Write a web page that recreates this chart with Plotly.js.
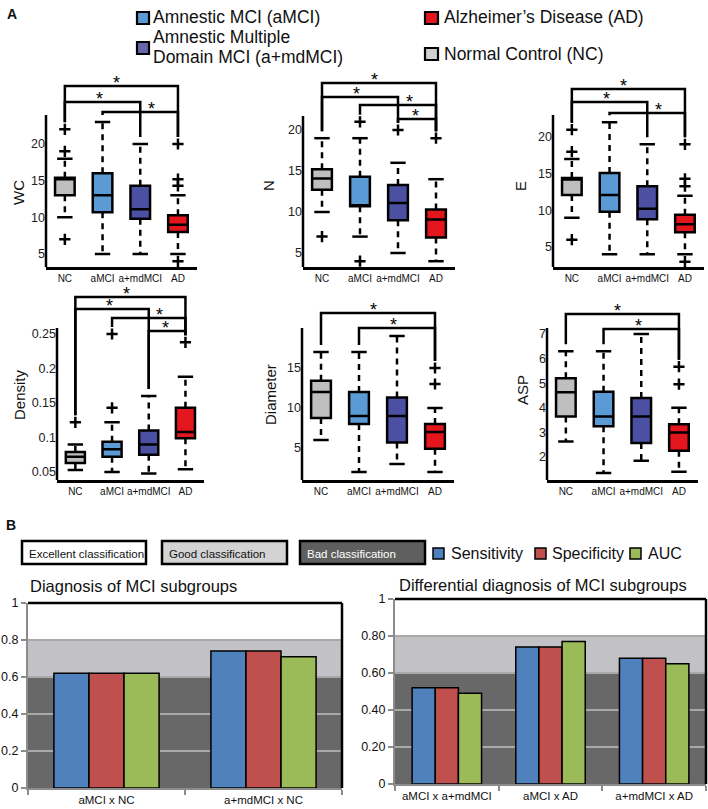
<!DOCTYPE html>
<html><head><meta charset="utf-8">
<script src="https://cdn.plot.ly/plotly-3.0.1.min.js"></script>
<style>html,body{margin:0;padding:0;background:#fff}#chart{width:708px;height:809px}</style>
</head><body><div id="chart"></div>
<script>
// ---------- DATA ----------
const groups = ['NC', 'aMCI', 'a+mdMCI', 'AD'];
const measures = ['WC', 'N', 'E', 'Density', 'Diameter', 'ASP'];

const wcQ1 = [13.0, 10.7, 9.8, 8.0];
const wcMed = [15.2, 13.0, 11.1, 9.0];
const wcQ3 = [15.4, 16.0, 14.3, 10.3];
const wcLo = [10, 5, 5, 5];
const wcHi = [18, 23, 20, 13];
const wcOut = [[7, 19, 22], [], [], [4, 14.3, 15.2, 20]];

const nQ1 = [12.7, 10.7, 9.0, 6.9];
const nMed = [14.1, 10.8, 11.1, 9.1];
const nQ3 = [15.2, 14.3, 13.3, 10.3];
const nLo = [10, 7, 5, 4];
const nHi = [19, 19, 16, 14];
const nOut = [[7], [4, 21], [20], [19]];

const eQ1 = [12.1, 9.8, 8.8, 7.0];
const eMed = [14.2, 12.1, 10.2, 8.1];
const eQ3 = [14.4, 15.1, 13.3, 9.4];
const eLo = [9, 4, 4, 4];
const eHi = [17, 22, 19, 12];
const eOut = [[6, 18, 21], [], [], [3, 13.3, 14.3, 19]];

const dQ1 = [0.063, 0.072, 0.075, 0.099];
const dMed = [0.072, 0.083, 0.090, 0.108];
const dQ3 = [0.079, 0.094, 0.110, 0.143];
const dLo = [0.053, 0.050, 0.048, 0.054];
const dHi = [0.090, 0.122, 0.160, 0.188];
const dOut = [[0.122], [0.143, 0.250], [], [0.238]];

const diQ1 = [8.75, 8.0, 5.7, 4.9];
const diMed = [12, 9, 9, 7];
const diQ3 = [13.4, 12.0, 11.3, 8.0];
const diLo = [6, 2, 3, 2];
const diHi = [17, 17, 19, 10];
const diOut = [[], [], [], [13, 15]];

const aQ1 = [3.65, 3.25, 2.57, 2.25];
const aMed = [4.63, 3.65, 3.65, 3.0];
const aQ3 = [5.2, 4.65, 4.4, 3.33];
const aLo = [2.63, 1.35, 1.85, 1.4];
const aHi = [6.3, 6.3, 7.0, 4.0];
const aOut = [[], [], [], [4.96, 5.67]];

// significance comparisons (group index pairs), top bracket first
const wcSig = [[0, 3], [0, 2], [1, 3]];
const nSig = [[0, 3], [0, 2], [1, 3], [2, 3]];
const eSig = [[0, 3], [0, 2], [1, 3]];
const dSig = [[0, 3], [0, 2], [1, 3], [2, 3]];
const diSig = [[0, 3], [1, 3]];
const aSig = [[0, 3], [1, 3]];

const wcTicks = [5, 10, 15, 20];
const nTicks = [5, 10, 15, 20];
const eTicks = [5, 10, 15, 20];
const dTicks = [0.05, 0.1, 0.15, 0.2, 0.25];
const diTicks = [5, 10, 15];
const aTicks = [2, 3, 4, 5, 6, 7];

// Panel B
const metrics = ['Sensitivity', 'Specificity', 'AUC'];
const cats1 = ['aMCI x NC', 'a+mdMCI x NC'];
const sens1 = [0.62, 0.74];
const spec1 = [0.62, 0.74];
const auc1 = [0.62, 0.71];
const cats2 = ['aMCI x a+mdMCI', 'aMCI x AD', 'a+mdMCI x AD'];
const sens2 = [0.52, 0.74, 0.68];
const spec2 = [0.52, 0.74, 0.68];
const auc2 = [0.49, 0.77, 0.65];
const yTicksB = [0, 0.2, 0.4, 0.6, 0.8, 1];
const yTickText1 = ['0', '0.2', '0.4', '0.6', '0.8', '1'];
const yTickText2 = ['0', '0.20', '0.40', '0.60', '0.80', '1'];
const bandNames = ['Excellent classification', 'Good classification', 'Bad classification'];

// ---------- STYLE / LAYOUT ----------
const W = 708, H = 809;
const FONT = 'Liberation Sans, Arial, sans-serif';
const groupColors = ['#bfbfbf', '#5b9bd5', '#4b50a3', '#e3151d'];
const legendColors = ['#5b9bd5', '#6767a8', '#e3151d', '#d0d0d0'];
const metricColors = ['#4f81bd', '#c0504d', '#9bbb59'];
const PX = x => x / W;
const PY = y => 1 - y / H;

const statTable = [
  {q1: wcQ1, med: wcMed, q3: wcQ3, lo: wcLo, hi: wcHi, out: wcOut, sig: wcSig, ticks: wcTicks},
  {q1: nQ1, med: nMed, q3: nQ3, lo: nLo, hi: nHi, out: nOut, sig: nSig, ticks: nTicks},
  {q1: eQ1, med: eMed, q3: eQ3, lo: eLo, hi: eHi, out: eOut, sig: eSig, ticks: eTicks},
  {q1: dQ1, med: dMed, q3: dQ3, lo: dLo, hi: dHi, out: dOut, sig: dSig, ticks: dTicks},
  {q1: diQ1, med: diMed, q3: diQ3, lo: diLo, hi: diHi, out: diOut, sig: diSig, ticks: diTicks},
  {q1: aQ1, med: aMed, q3: aQ3, lo: aLo, hi: aHi, out: aOut, sig: aSig, ticks: aTicks}
];

// pixel geometry of each panel (layout only)
const geo = [
  {left: 46, sp: 37.7, bot: 267, top: 70, cal: [[144, 20], [254, 5]], axTop: 115, levels: [86, 102, 112], title: [19, 193]},
  {left: 303, sp: 38, bot: 267, top: 70, cal: [[130, 20], [253, 5]], axTop: 116, levels: [83, 97, 105, 119], title: [268, 186]},
  {left: 553, sp: 37.7, bot: 267, top: 70, cal: [[137, 20], [247, 5]], axTop: 115, levels: [89, 102, 113], title: [520, 186]},
  {left: 57, sp: 36.7, bot: 480, top: 280, cal: [[334, 0.25], [472, 0.05]], axTop: 328, levels: [297, 309, 318, 331], title: [19, 395]},
  {left: 302, sp: 38, bot: 480, top: 280, cal: [[368, 15], [448, 5]], axTop: 328, levels: [313, 328], title: [270, 395]},
  {left: 547, sp: 37.7, bot: 480, top: 280, cal: [[334, 7], [457, 2]], axTop: 328, levels: [314, 329], title: [522, 390]}
];

const traces = [];
const shapes = [];
const annotations = [];
const layout = {
  width: W, height: H, margin: {l: 0, r: 0, t: 0, b: 0},
  paper_bgcolor: '#fff', plot_bgcolor: 'rgba(0,0,0,0)',
  showlegend: false, boxmode: 'overlay', barmode: 'group', bargap: 0.33, bargroupgap: 0,
  font: {family: FONT, color: '#111'}
};

statTable.forEach((s, k) => {
  const g = geo[k];
  const n = k + 1;
  const xa = n === 1 ? 'x' : 'x' + n;
  const ya = n === 1 ? 'y' : 'y' + n;
  const [[p1, v1], [p2, v2]] = g.cal;
  const slope = (v2 - v1) / (p2 - p1);
  const vOf = p => v1 + (p - p1) * slope;
  const yr = [vOf(g.bot), vOf(g.top)];

  layout['xaxis' + (n === 1 ? '' : n)] = {
    domain: [PX(g.left), PX(g.left + 4 * g.sp)], range: [-0.5, 3.5], anchor: ya,
    tickvals: [0, 1, 2, 3], ticktext: groups, tickangle: 0, showline: true, linecolor: '#000', linewidth: 2.5,
    showgrid: false, zeroline: false, ticks: '', tickfont: {size: 10, color: '#111'}, fixedrange: true
  };
  layout['yaxis' + (n === 1 ? '' : n)] = {
    domain: [PY(g.bot), PY(g.top)], range: yr, anchor: xa,
    tickvals: s.ticks, showline: false, showgrid: false, zeroline: false, ticks: '',
    tickfont: {size: 12.5, color: '#222'}, fixedrange: true
  };
  // left axis line (only up to the data area)
  shapes.push({type: 'line', xref: xa + ' domain', yref: ya, x0: 0, x1: 0, y0: yr[0], y1: vOf(g.axTop),
    line: {color: '#000', width: 2.5}});
  // axis title
  annotations.push({text: measures[k], xref: 'paper', yref: 'paper', x: PX(g.title[0]), y: PY(g.title[1]),
    xanchor: 'center', yanchor: 'middle', textangle: -90, showarrow: false, font: {size: 15, color: '#111'}});

  // whiskers
  const wx = [], wy = [];
  groups.forEach((_, i) => { wx.push(i, i, null, i, i, null); wy.push(s.q3[i], s.hi[i], null, s.q1[i], s.lo[i], null); });
  traces.push({type: 'scatter', mode: 'lines', x: wx, y: wy, xaxis: xa, yaxis: ya, hoverinfo: 'skip',
    line: {color: '#000', width: 2.5, dash: '6px,5px'}});
  // caps
  traces.push({type: 'scatter', mode: 'markers', xaxis: xa, yaxis: ya, hoverinfo: 'skip',
    x: groups.map((_, i) => i).concat(groups.map((_, i) => i)), y: s.hi.concat(s.lo),
    marker: {symbol: 'line-ew-open', size: 11, color: '#000', line: {color: '#000', width: 2.5}}});
  // boxes
  groups.forEach((gname, i) => {
    traces.push({type: 'box', name: gname, x: [i], q1: [s.q1[i]], median: [s.med[i]], q3: [s.q3[i]],
      lowerfence: [s.q1[i]], upperfence: [s.q3[i]], xaxis: xa, yaxis: ya, width: 0.52, whiskerwidth: 0,
      fillcolor: groupColors[i], line: {color: '#000', width: 2.5}, boxpoints: false, hoverinfo: 'skip'});
  });
  // outliers
  const ox = [], oy = [];
  s.out.forEach((arr, i) => arr.forEach(v => { ox.push(i); oy.push(v); }));
  if (ox.length) traces.push({type: 'scatter', mode: 'markers', x: ox, y: oy, xaxis: xa, yaxis: ya, hoverinfo: 'skip',
    marker: {symbol: 'cross-thin-open', size: 8, color: '#000', line: {color: '#000', width: 2.5}}});

  // significance brackets
  const gapV = 7 * Math.abs(slope);
  const groupMax = i => Math.max(s.hi[i], ...s.out[i]);
  s.sig.forEach(([a, b], j) => {
    const L = vOf(g.levels[j]);
    const da = Math.min(L, groupMax(a) + gapV);
    const db = Math.min(L, groupMax(b) + gapV);
    traces.push({type: 'scatter', mode: 'lines', x: [a, a, b, b], y: [da, L, L, db], xaxis: xa, yaxis: ya,
      hoverinfo: 'skip', line: {color: '#000', width: 2.5}});
    let sx = a + (b - a) * 0.46;
    for (let q = 0; q < j; q++) {
      s.sig[q].forEach(c => { if (c > a && c < b) sx = (c + b) / 2 - 0.2; });
    }
    annotations.push({text: '*', xref: xa, yref: ya, x: sx, y: L, xanchor: 'center', yanchor: 'middle',
      yshift: 3, showarrow: false, font: {size: 18, color: '#000'}});
  });
});

// ---------- Panel B bar charts ----------
const barGeo = [
  {left: 28, right: 342, bot: 788, top: 603, cats: cats1, vals: [sens1, spec1, auc1], tt: yTickText1,
   title: 'Diagnosis of MCI subgroups', tx: 28, ty: 586},
  {left: 395, right: 706, bot: 784, top: 599, cats: cats2, vals: [sens2, spec2, auc2], tt: yTickText2,
   title: 'Differential diagnosis of MCI subgroups', tx: 397, ty: 585}
];
barGeo.forEach((b, k) => {
  const n = 7 + k;
  const xa = 'x' + n, ya = 'y' + n;
  layout['xaxis' + n] = {domain: [PX(b.left), PX(b.right)], anchor: ya, type: 'category', tickangle: 0,
    showline: true, linecolor: '#8c8c8c', linewidth: 2, ticks: 'outside', tickson: 'boundaries', ticklen: 5,
    tickcolor: '#8c8c8c', tickwidth: 2, showgrid: false, zeroline: false, tickfont: {size: 11.5, color: '#111'}, fixedrange: true};
  layout['yaxis' + n] = {domain: [PY(b.bot), PY(b.top)], anchor: xa, range: [0, 1], tickvals: yTicksB, ticktext: b.tt,
    showline: true, linecolor: '#8c8c8c', linewidth: 2, ticks: 'outside', ticklen: 5, tickcolor: '#8c8c8c', tickwidth: 2,
    showgrid: true, gridcolor: '#a9a9a9', gridwidth: 2, zeroline: false, tickfont: {size: 12.5, color: '#111'}, fixedrange: true};
  metrics.forEach((m, i) => {
    traces.push({type: 'bar', name: m, x: b.cats, y: b.vals[i], xaxis: xa, yaxis: ya, hoverinfo: 'skip',
      marker: {color: metricColors[i], line: {color: '#000', width: 1.5}}});
  });
  // classification bands
  const bands = [[0.8, 1, '#ffffff'], [0.6, 0.8, '#c2c2c6'], [0, 0.6, '#686868']];
  bands.forEach(([y0, y1, c]) => shapes.push({type: 'rect', layer: 'below', xref: xa + ' domain', yref: ya,
    x0: 0, x1: 1, y0: y0, y1: y1, fillcolor: c, line: {width: 0}}));
  shapes.push({type: 'line', xref: xa + ' domain', yref: ya + ' domain', x0: 0, x1: 1, y0: 1, y1: 1, line: {color: '#000', width: 2.5}});
  shapes.push({type: 'line', xref: xa + ' domain', yref: ya + ' domain', x0: 1, x1: 1, y0: 0, y1: 1, line: {color: '#000', width: 2.5}});
  annotations.push({text: b.title, xref: 'paper', yref: 'paper', x: PX(b.tx), y: PY(b.ty), xanchor: 'left', yanchor: 'middle',
    showarrow: false, font: {size: 16.5, color: '#111'}});
});

// ---------- Legends / labels ----------
const label = (t, x, y, size, extra) => annotations.push(Object.assign({text: t, xref: 'paper', yref: 'paper',
  x: PX(x), y: PY(y), xanchor: 'left', yanchor: 'middle', showarrow: false, font: {size: size, color: '#111'}}, extra || {}));
const square = (x0, y0, x1, y1, c, w) => shapes.push({type: 'rect', xref: 'paper', yref: 'paper',
  x0: PX(x0), x1: PX(x1), y0: PY(y1), y1: PY(y0), fillcolor: c, line: {color: '#000', width: w}});

label('<b>A</b>', 5, 14, 14);
label('<b>B</b>', 4, 525, 14);

// Panel A legend
square(137, 12, 149, 24, legendColors[0], 2.2);
label('Amnestic MCI (aMCI)', 151, 17, 17.5);
square(137, 42, 149, 54, legendColors[1], 2.2);
label('Amnestic Multiple', 151, 37, 17.5);
label('Domain MCI (a+mdMCI)', 151, 57, 17.5);
square(425, 12, 438, 24, legendColors[2], 2.2);
label('Alzheimer\u2019s Disease (AD)', 442, 17, 17.5);
square(425, 48, 438, 60, legendColors[3], 2.2);
label('Normal Control (NC)', 442, 54, 17.5);

// Panel B legend
const bandBoxes = [[22, 146, '#ffffff', '#111'], [162, 287, '#d3d3d3', '#111'], [300, 425, '#5f5f5f', '#fff']];
bandBoxes.forEach(([x0, x1, c, tc], i) => {
  square(x0, 541, x1, 564, c, 2.5);
  label(bandNames[i], x0 + 5, 553.5, 11.5, {font: {size: 11.5, color: tc}});
});
const metricLeg = [[433, 449], [535, 550], [630, 646]];
metricLeg.forEach(([sx, tx], i) => {
  square(sx, 548, sx + 11, 559, metricColors[i], 1.5);
  label(metrics[i], tx, 553, 16);
});

layout.shapes = shapes;
layout.annotations = annotations;
Plotly.newPlot('chart', traces, layout, {staticPlot: true, displayModeBar: false});
</script></body></html>
